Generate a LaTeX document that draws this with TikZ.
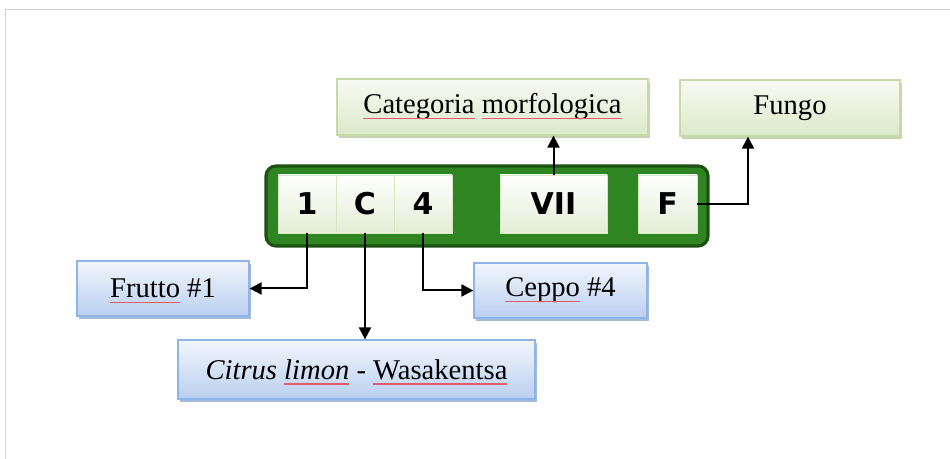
\documentclass[tikz,border=0pt]{standalone}
\usepackage{fontspec}
\setmainfont{Liberation Serif}
\newfontfamily\cellfont{DejaVu Sans}
\usepackage{xcolor}
\usetikzlibrary{arrows.meta,shadows}

\definecolor{tagGreen}{HTML}{2F8522}
\definecolor{tagEdge}{HTML}{1B5212}
\definecolor{blueEdge}{HTML}{8FB4E8}
\definecolor{blueTop}{HTML}{F2F6FC}
\definecolor{blueBot}{HTML}{B9CFF0}
\definecolor{greenEdge}{HTML}{C6DBA9}
\definecolor{greenTop}{HTML}{F8FAF2}
\definecolor{greenBot}{HTML}{DCE9CA}
\definecolor{spell}{HTML}{E05A68}

% red underline of the text editor
\newsavebox{\splbox}
\newcommand{\spl}[1]{\sbox{\splbox}{#1}\leavevmode\usebox{\splbox}%
  \tikz[overlay, baseline=0pt]\draw[spell, line width=0.7pt] (0pt,-2.4pt) -- ++(-\wd\splbox,0pt);}

\tikzset{
  bluebox/.style={draw=blueEdge, line width=0.6pt, top color=blueTop, bottom color=blueBot,
    inner sep=0pt,
    drop shadow={shadow xshift=1.2pt, shadow yshift=-1.5pt, fill=blueEdge!80!gray, opacity=0.8}},
  greenbox/.style={draw=greenEdge, line width=0.6pt, top color=greenTop, bottom color=greenBot,
    inner sep=0pt,
    drop shadow={shadow xshift=1.2pt, shadow yshift=-1.5pt, fill=greenEdge!80!gray, opacity=0.8}},
  boxtext/.style={font=\fontsize{14.3}{16}\selectfont, inner sep=0pt, text=black},
  cell/.style={draw=greenEdge!70!white, line width=0.4pt, top color=white, bottom color=greenBot!80!white,
    inner sep=0pt, minimum height=29pt},
  celltext/.style={font=\cellfont\bfseries\fontsize{15}{17}\selectfont, inner sep=0pt},
  arr/.style={-{Triangle[length=6pt,width=6pt]}, line width=1pt}
}

\begin{document}
\begin{tikzpicture}[x=0.5pt, y=-0.5pt]

  % page frame
  \useasboundingbox (0,0) rectangle (950,459);
  \fill[white] (0,0) rectangle (950,459);
  \draw[gray!35, line width=0.5pt] (5,459) -- (5,10) -- (950,10);

  % the code tag
  \node[draw=tagEdge, line width=1.6pt, fill=tagGreen, rounded corners=5pt,
    minimum width=221pt, minimum height=40pt] (tag) at (487,206) {};
  \node[cell, minimum width=29pt] (c1) at (307,204) {};
  \node[cell, minimum width=29pt] (cC) at (365,204) {};
  \node[cell, minimum width=29pt] (c4) at (423,204) {};
  \node[cell, minimum width=53.5pt] (cVII) at (553.5,204) {};
  \node[cell, minimum width=29.5pt] (cF) at (667.5,204) {};
  \node[celltext] (c1txt) at (c1) {1};
  \node[celltext] (cCtxt) at (cC) {C};
  \node[celltext] (c4txt) at (c4) {4};
  \node[celltext] (cVIItxt) at (cVII) {VII};
  \node[celltext] (cFtxt) at (cF) {F};

  % description boxes
  \node[greenbox, minimum width=155.5pt, minimum height=28pt] (morf) at (492.5,107) {};
  \node[greenbox, minimum width=110pt, minimum height=28pt] (fungo) at (790,108) {};
  \node[bluebox, minimum width=86pt, minimum height=27.5pt] (frutto) at (163,288.5) {};
  \node[bluebox, minimum width=86.5pt, minimum height=27.5pt] (ceppo) at (560.5,290.5) {};
  \node[bluebox, minimum width=178.5pt, minimum height=29.5pt] (citrus) at (356.5,369.5) {};

  \node[boxtext] (morftxt) at (morf) {\spl{Categoria} \spl{morfologica}};
  \node[boxtext] (fungotxt) at (fungo) {Fungo};
  \node[boxtext] (fruttotxt) at (frutto) {\spl{Frutto} \#1};
  \node[boxtext] (ceppotxt) at (ceppo) {\spl{Ceppo} \#4};
  \node[boxtext] (citrustxt) at (citrus) {\textit{Citrus \spl{limon}} - \spl{Wasakentsa}};

  % connectors
  \draw[arr] (c1.south) |- (frutto.east);
  \draw[arr] (cC.south) -- (cC.south |- citrus.north);
  \draw[arr] (c4.south) |- (ceppo.west);
  \draw[arr] (cVII.north) -- (cVII.north |- morf.south);
  \coordinate (bend) at (748,204);
  \draw[arr] (cF.east) -- (bend) -- (bend |- fungo.south);

\end{tikzpicture}
\end{document}
